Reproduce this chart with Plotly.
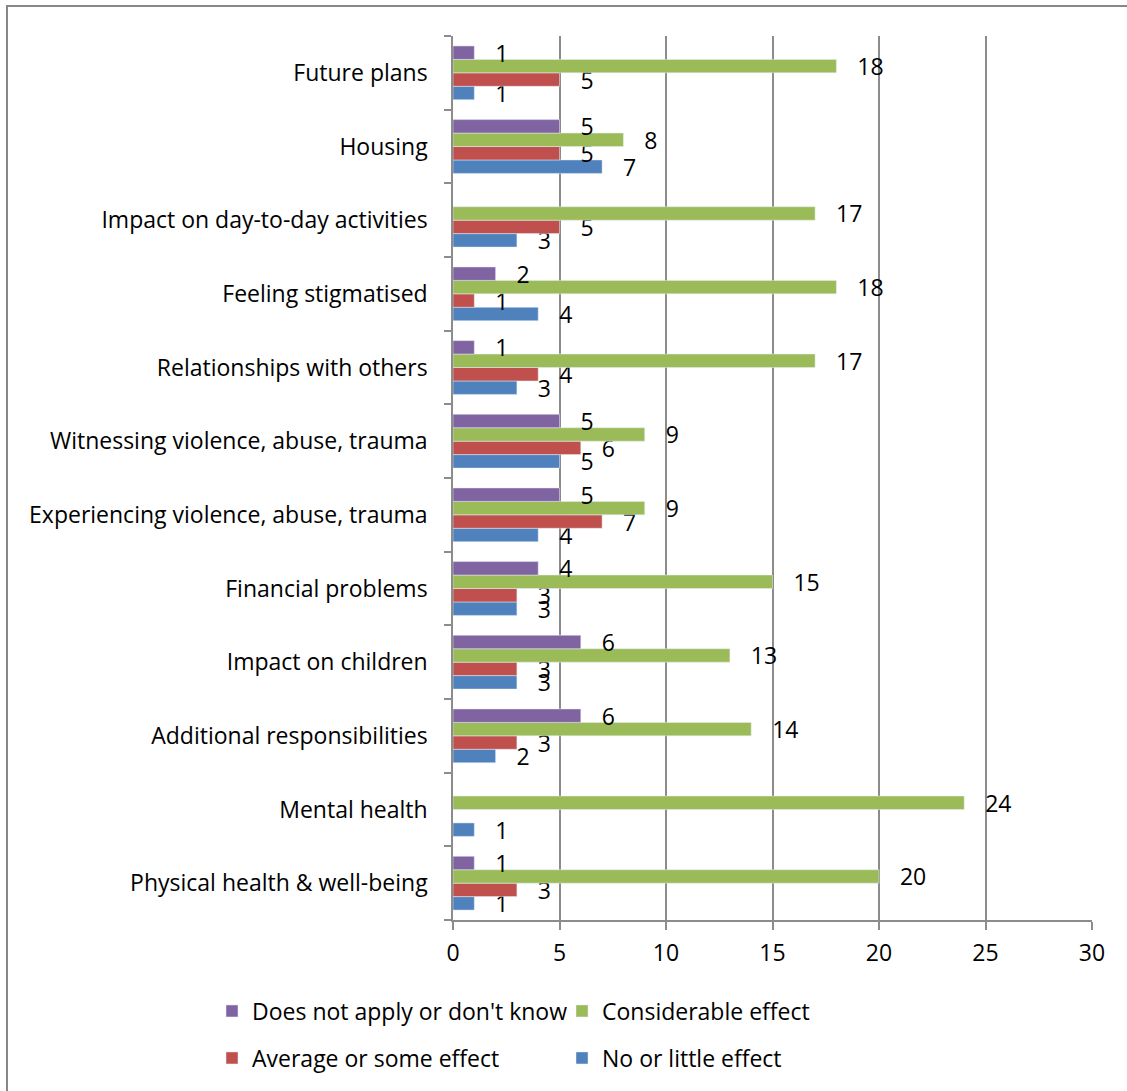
import plotly.graph_objects as go

categories = [
    "Physical health & well-being",
    "Mental health",
    "Additional responsibilities",
    "Impact on children",
    "Financial problems",
    "Experiencing violence, abuse, trauma",
    "Witnessing violence, abuse, trauma",
    "Relationships with others",
    "Feeling stigmatised",
    "Impact on day-to-day activities",
    "Housing",
    "Future plans",
]
no_little = [1, 1, 2, 3, 3, 4, 5, 3, 4, 3, 7, 1]
average_some = [3, None, 3, 3, 3, 7, 6, 4, 1, 5, 5, 5]
considerable = [20, 24, 14, 13, 15, 9, 9, 17, 18, 17, 8, 18]
not_apply = [1, None, 6, 6, 4, 5, 5, 1, 2, None, 5, 1]

series = [
    ("No or little effect", no_little, "#4F81BD", "legend2"),
    ("Average or some effect", average_some, "#C0504D", "legend2"),
    ("Considerable effect", considerable, "#9BBB59", "legend"),
    ("Does not apply or don't know", not_apply, "#8064A2", "legend"),
]

FONT = "Open Sans"
FS = 23
fig = go.Figure()
for name, vals, color, lg in series:
    fig.add_trace(go.Bar(
        y=categories, x=vals, name=name, orientation="h",
        marker=dict(color=color),
        texttemplate="\u00a0\u00a0\u00a0%{x}", textposition="outside",
        constraintext="none", cliponaxis=False,
        textfont=dict(family=FONT, size=FS, color="black"),
        legend=lg,
    ))

W, H = 1127, 1091
L, R, T, B = 453, 35, 36, 171
pw, ph = W - L - R, H - T - B

def px_x(x):
    return (x - L) / pw

def px_y(y):
    return (H - B - y) / ph

fig.update_layout(
    width=W, height=H,
    margin=dict(l=L, r=R, t=T, b=B),
    barmode="group", bargap=0.27, bargroupgap=0,
    plot_bgcolor="white", paper_bgcolor="white",
    font=dict(family=FONT, size=FS, color="black"),
    xaxis=dict(range=[0, 30], dtick=5, showgrid=True, gridcolor="#8c8c8c", gridwidth=1.5,
               showline=True, linecolor="#8c8c8c", linewidth=1.5,
               ticks="outside", ticklen=8, tickcolor="#8c8c8c", tickwidth=1.5,
               zeroline=False, tickfont=dict(size=FS), ticklabelstandoff=4),
    yaxis=dict(showline=True, linecolor="#8c8c8c", linewidth=1.5,
               ticks="outside", ticklen=7, tickcolor="#8c8c8c", tickwidth=1.5,
               tickson="boundaries", showgrid=False, tickfont=dict(size=FS),
               ticklabelstandoff=19),
    legend=dict(orientation="h", x=px_x(212), xanchor="left", y=px_y(1011), yanchor="middle",
                entrywidth=305, entrywidthmode="pixels", traceorder="reversed",
                font=dict(size=FS), bgcolor="rgba(0,0,0,0)"),
    legend2=dict(orientation="h", x=px_x(212), xanchor="left", y=px_y(1058), yanchor="middle",
                 entrywidth=305, entrywidthmode="pixels", traceorder="reversed",
                 font=dict(size=FS), bgcolor="rgba(0,0,0,0)"),
    showlegend=True,
)
fig.add_shape(type="rect", xref="paper", yref="paper",
              x0=px_x(7), x1=px_x(1140), y0=px_y(6), y1=px_y(1100),
              line=dict(color="#878787", width=2), layer="below")
fig.write_html("out.html")
